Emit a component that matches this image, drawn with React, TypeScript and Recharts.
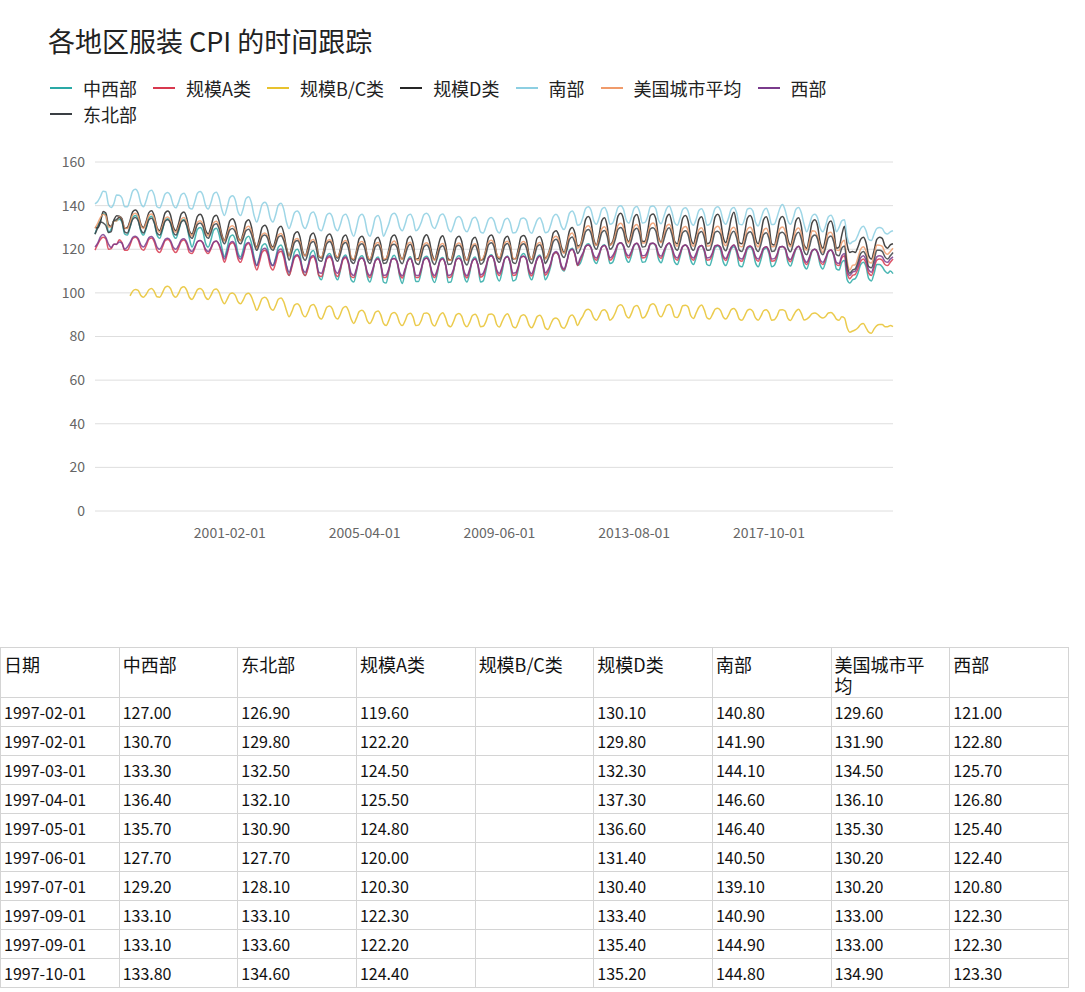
import { CartesianGrid, Line, LineChart, XAxis, YAxis } from 'recharts'

const FONT = '"Noto Sans CJK SC", "Noto Sans", sans-serif'

// first rows exactly as the source table prints them; later months follow on
const HEAD_DATES = [
  '1997-02-01', '1997-02-01', '1997-03-01', '1997-04-01', '1997-05-01',
  '1997-06-01', '1997-07-01', '1997-09-01', '1997-09-01', '1997-10-01',
]
const TICK_INDEX = [50, 100, 150, 200, 250]
const Y_TICKS = [0, 20, 40, 60, 80, 100, 120, 140, 160]

// monthly values, one row per year (1997 .. 2021-09)
const midwest = [
  127.0, 130.7, 133.3, 136.4, 135.7, 127.7, 129.2, 133.1, 133.1, 133.8, 132.5, 127.0,
  126.5, 130.1, 134.6, 135.5, 133.7, 128.3, 126.5, 129.7, 134.2, 135.1, 132.4, 126.5,
  125.0, 128.6, 133.1, 134.0, 132.2, 126.8, 125.0, 128.2, 132.7, 133.6, 130.9, 125.0,
  121.0, 124.6, 129.1, 130.0, 128.2, 122.8, 121.0, 124.2, 128.7, 129.6, 126.9, 121.0,
  116.5, 120.5, 125.5, 126.5, 124.5, 118.5, 116.5, 120.0, 125.0, 126.0, 123.0, 116.5,
  112.5, 116.5, 121.5, 122.5, 120.5, 114.5, 112.5, 116.0, 121.0, 122.0, 119.0, 112.5,
  108.0, 112.8, 118.8, 120.0, 117.6, 110.4, 108.0, 112.2, 118.2, 119.4, 115.8, 108.0,
  106.0, 110.8, 116.8, 118.0, 115.6, 108.4, 106.0, 110.2, 116.2, 117.4, 113.8, 106.0,
  105.0, 109.8, 115.8, 117.0, 114.6, 107.4, 105.0, 109.2, 115.2, 116.4, 112.8, 105.0,
  104.5, 110.0, 115.5, 117.3, 114.4, 107.6, 104.3, 109.5, 115.0, 116.6, 112.5, 105.2,
  105.2, 109.6, 116.0, 116.8, 114.8, 107.2, 104.8, 109.0, 115.4, 116.2, 113.0, 104.8,
  105.0, 109.8, 115.8, 117.0, 114.6, 107.4, 105.0, 109.2, 115.2, 116.4, 112.8, 105.0,
  105.5, 110.3, 116.3, 117.5, 115.1, 107.9, 105.5, 109.7, 115.7, 116.9, 113.3, 105.5,
  106.0, 110.8, 116.8, 118.0, 115.6, 108.4, 106.0, 110.2, 116.2, 117.4, 113.8, 106.0,
  108.0, 112.0, 117.5, 118.5, 117.0, 111.5, 110.0, 114.0, 119.5, 120.5, 118.0, 112.5,
  113.5, 117.1, 121.6, 122.5, 120.7, 115.3, 113.5, 116.7, 121.2, 122.1, 119.4, 113.5,
  114.0, 117.6, 122.1, 123.0, 121.2, 115.8, 114.0, 117.2, 121.7, 122.6, 119.9, 114.0,
  114.2, 117.5, 122.3, 122.8, 121.4, 115.6, 113.8, 117.4, 121.5, 122.8, 119.7, 114.1,
  113.0, 116.6, 121.1, 122.0, 120.2, 114.8, 113.0, 116.2, 120.7, 121.6, 118.9, 113.0,
  112.5, 116.1, 120.6, 121.5, 119.7, 114.3, 112.5, 115.7, 120.2, 121.1, 118.4, 112.5,
  112.0, 115.6, 120.1, 121.0, 119.2, 113.8, 112.0, 115.2, 119.7, 120.6, 117.9, 112.0,
  112.7, 116.0, 120.8, 121.3, 119.9, 114.1, 112.3, 115.9, 120.0, 121.3, 118.2, 112.6,
  111.0, 114.6, 119.1, 120.0, 118.2, 112.8, 111.0, 114.2, 118.7, 119.6, 116.9, 111.0,
  110.5, 114.0, 115.0, 106.0, 104.5, 106.0, 106.5, 109.0, 113.0, 114.0, 112.0, 106.5,
  105.5, 109.0, 113.0, 113.0, 112.0, 110.0, 109.0, 110.0, 108.8,
]

const northeast = [
  126.9, 129.8, 132.5, 132.1, 130.9, 127.7, 128.1, 133.1, 133.6, 134.6, 133.0, 128.0,
  127.5, 130.3, 133.8, 134.5, 133.1, 128.9, 127.5, 130.0, 133.5, 134.2, 132.0, 127.5,
  126.5, 129.3, 132.8, 133.5, 132.1, 127.9, 126.5, 129.0, 132.5, 133.2, 131.0, 126.5,
  125.0, 127.8, 131.3, 132.0, 130.6, 126.4, 125.0, 127.5, 131.0, 131.7, 129.5, 125.0,
  122.5, 125.3, 128.8, 129.5, 128.1, 123.9, 122.5, 125.0, 128.5, 129.2, 127.0, 122.5,
  119.5, 122.3, 125.8, 126.5, 125.1, 120.9, 119.5, 122.0, 125.5, 126.2, 124.0, 119.5,
  115.0, 118.6, 123.1, 124.0, 122.2, 116.8, 115.0, 118.2, 122.7, 123.6, 120.9, 115.0,
  114.5, 118.1, 122.6, 123.5, 121.7, 116.3, 114.5, 117.7, 122.2, 123.1, 120.4, 114.5,
  113.5, 117.1, 121.6, 122.5, 120.7, 115.3, 113.5, 116.7, 121.2, 122.1, 119.4, 113.5,
  113.7, 117.0, 121.8, 122.3, 120.9, 115.1, 113.4, 116.9, 121.0, 122.3, 119.2, 113.8,
  113.0, 116.6, 121.1, 122.0, 120.2, 114.8, 113.0, 116.2, 120.7, 121.6, 118.9, 113.0,
  113.2, 116.5, 121.3, 121.8, 120.4, 114.6, 112.8, 116.4, 120.5, 121.8, 118.7, 113.1,
  114.0, 117.6, 122.1, 123.0, 121.2, 115.8, 114.0, 117.2, 121.7, 122.6, 119.9, 114.0,
  113.5, 117.1, 121.6, 122.5, 120.7, 115.3, 113.5, 116.7, 121.2, 122.1, 119.4, 113.5,
  115.5, 118.8, 123.5, 124.6, 122.8, 117.8, 116.2, 119.5, 124.5, 125.6, 123.0, 118.0,
  120.0, 123.6, 128.1, 129.0, 127.2, 121.8, 120.0, 123.2, 127.7, 128.6, 125.9, 120.0,
  121.0, 124.6, 129.1, 130.0, 128.2, 122.8, 121.0, 124.2, 128.7, 129.6, 126.9, 121.0,
  121.2, 124.5, 129.3, 129.8, 128.4, 122.6, 120.8, 124.4, 128.5, 129.8, 126.7, 121.1,
  119.5, 123.1, 127.6, 128.5, 126.7, 121.3, 119.5, 122.7, 127.2, 128.1, 125.4, 119.5,
  119.6, 123.0, 127.8, 128.3, 126.9, 121.1, 119.3, 122.9, 127.0, 128.3, 125.2, 119.6,
  119.0, 122.6, 127.1, 128.0, 126.2, 120.8, 119.0, 122.2, 126.7, 127.6, 124.9, 119.0,
  119.2, 122.5, 127.3, 127.8, 126.4, 120.6, 118.8, 122.4, 126.5, 127.8, 124.7, 119.1,
  117.5, 121.1, 125.6, 126.5, 124.7, 119.3, 117.5, 120.7, 125.2, 126.1, 123.4, 117.5,
  117.0, 120.5, 121.5, 112.5, 109.0, 110.5, 111.0, 114.0, 118.0, 119.0, 117.0, 112.0,
  111.5, 115.0, 119.5, 119.5, 119.0, 116.5, 115.5, 117.0, 118.5,
]

const sizeA = [
  119.6, 122.2, 124.5, 125.5, 124.8, 120.0, 120.3, 122.3, 122.2, 124.4, 123.0, 119.5,
  119.5, 121.9, 124.9, 125.5, 124.3, 120.7, 119.5, 121.6, 124.6, 125.2, 123.4, 119.5,
  118.5, 120.9, 123.9, 124.5, 123.3, 119.7, 118.5, 120.6, 123.6, 124.2, 122.4, 118.5,
  118.0, 120.4, 123.4, 124.0, 122.8, 119.2, 118.0, 120.1, 123.1, 123.7, 121.9, 118.0,
  114.0, 117.6, 122.1, 123.0, 121.2, 115.8, 114.0, 117.2, 121.7, 122.6, 119.9, 114.0,
  110.5, 114.1, 118.6, 119.5, 117.7, 112.3, 110.5, 113.7, 118.2, 119.1, 116.4, 110.5,
  108.0, 111.6, 116.1, 117.0, 115.2, 109.8, 108.0, 111.2, 115.7, 116.6, 113.9, 108.0,
  107.5, 111.1, 115.6, 116.5, 114.7, 109.3, 107.5, 110.7, 115.2, 116.1, 113.4, 107.5,
  107.0, 110.6, 115.1, 116.0, 114.2, 108.8, 107.0, 110.2, 114.7, 115.6, 112.9, 107.0,
  107.2, 110.5, 115.3, 115.8, 114.4, 108.6, 106.8, 110.4, 114.5, 115.8, 112.7, 107.1,
  107.0, 110.6, 115.1, 116.0, 114.2, 108.8, 107.0, 110.2, 114.7, 115.6, 112.9, 107.0,
  107.3, 110.4, 115.2, 115.9, 114.3, 108.7, 106.9, 110.3, 114.6, 115.7, 112.8, 107.2,
  108.0, 111.6, 116.1, 117.0, 115.2, 109.8, 108.0, 111.2, 115.7, 116.6, 113.9, 108.0,
  108.2, 111.5, 116.3, 116.8, 115.4, 109.6, 107.8, 111.4, 115.5, 116.8, 113.7, 108.1,
  109.5, 113.0, 117.5, 118.5, 117.0, 112.0, 110.5, 114.0, 119.0, 120.0, 117.5, 112.5,
  115.0, 117.8, 121.3, 122.0, 120.6, 116.4, 115.0, 117.5, 121.0, 121.7, 119.5, 115.0,
  116.0, 118.8, 122.3, 123.0, 121.6, 117.4, 116.0, 118.5, 122.0, 122.7, 120.5, 116.0,
  116.2, 118.7, 122.5, 122.8, 121.8, 117.2, 115.8, 118.7, 121.8, 122.9, 120.3, 116.1,
  115.0, 117.8, 121.3, 122.0, 120.6, 116.4, 115.0, 117.5, 121.0, 121.7, 119.5, 115.0,
  115.2, 117.7, 121.5, 121.8, 120.8, 116.2, 114.8, 117.7, 120.8, 121.9, 119.3, 115.1,
  114.5, 117.3, 120.8, 121.5, 120.1, 115.9, 114.5, 117.0, 120.5, 121.2, 119.0, 114.5,
  114.7, 117.2, 121.0, 121.3, 120.3, 115.7, 114.3, 117.2, 120.3, 121.4, 118.8, 114.6,
  113.0, 115.8, 119.3, 120.0, 118.6, 114.4, 113.0, 115.5, 119.0, 119.7, 117.5, 113.0,
  112.5, 116.0, 117.0, 109.0, 106.5, 108.0, 108.5, 111.0, 114.5, 115.5, 113.5, 109.0,
  108.0, 111.5, 115.0, 115.5, 115.0, 113.0, 112.5, 114.0, 115.5,
]

// the B/C series only starts in early 1998
const sizeBC = [
  null, null, null, null, null, null, null, null, null, null, null, null,
  null, 98.6, 100.8, 101.6, 101.2, 98.8, 98.0, 99.4, 101.4, 102.0, 100.6, 98.2,
  98.0, 100.0, 102.5, 103.0, 102.0, 99.0, 98.0, 99.8, 102.3, 102.8, 101.3, 98.0,
  97.0, 99.0, 101.5, 102.0, 101.0, 98.0, 97.0, 98.8, 101.3, 101.8, 100.3, 97.0,
  95.0, 97.0, 99.5, 100.0, 99.0, 96.0, 95.0, 96.8, 99.3, 99.8, 98.3, 95.0,
  92.0, 94.4, 97.4, 98.0, 96.8, 93.2, 92.0, 94.1, 97.1, 97.7, 95.9, 92.0,
  89.0, 91.4, 94.4, 95.0, 93.8, 90.2, 89.0, 91.1, 94.1, 94.7, 92.9, 89.0,
  88.0, 90.4, 93.4, 94.0, 92.8, 89.2, 88.0, 90.1, 93.1, 93.7, 91.9, 88.0,
  86.0, 88.4, 91.4, 92.0, 90.8, 87.2, 86.0, 88.1, 91.1, 91.7, 89.9, 86.0,
  85.0, 87.4, 90.4, 91.0, 89.8, 86.2, 85.0, 87.1, 90.1, 90.7, 88.9, 85.0,
  85.2, 87.3, 90.6, 90.8, 90.0, 86.0, 84.8, 87.3, 89.9, 90.9, 88.7, 85.1,
  84.5, 86.9, 89.9, 90.5, 89.3, 85.7, 84.5, 86.6, 89.6, 90.2, 88.4, 84.5,
  84.7, 86.8, 90.1, 90.3, 89.5, 85.5, 84.3, 86.8, 89.4, 90.4, 88.2, 84.6,
  84.0, 86.4, 89.4, 90.0, 88.8, 85.2, 84.0, 86.1, 89.1, 89.7, 87.9, 84.0,
  83.2, 85.5, 88.0, 88.5, 87.5, 84.5, 83.8, 85.8, 89.0, 89.8, 88.2, 85.0,
  87.5, 89.5, 92.0, 92.5, 91.5, 88.5, 87.5, 89.3, 91.8, 92.3, 90.8, 87.5,
  88.5, 90.9, 93.9, 94.5, 93.3, 89.7, 88.5, 90.6, 93.6, 94.2, 92.4, 88.5,
  89.0, 91.4, 94.4, 95.0, 93.8, 90.2, 89.0, 91.1, 94.1, 94.7, 92.9, 89.0,
  88.7, 90.8, 94.1, 94.3, 93.5, 89.5, 88.3, 90.8, 93.4, 94.4, 92.2, 88.6,
  88.0, 90.0, 92.5, 93.0, 92.0, 89.0, 88.0, 89.8, 92.3, 92.8, 91.3, 88.0,
  87.5, 89.5, 92.0, 92.5, 91.5, 88.5, 87.5, 89.3, 91.8, 92.3, 90.8, 87.5,
  87.7, 89.4, 92.2, 92.3, 91.7, 88.3, 87.3, 89.5, 91.6, 92.5, 90.6, 87.6,
  88.0, 89.0, 90.5, 90.8, 90.2, 89.0, 88.5, 89.2, 90.8, 91.0, 90.0, 88.0,
  87.5, 89.0, 88.5, 84.0, 82.0, 82.5, 83.0, 84.0, 85.5, 86.0, 84.0, 82.0,
  81.5, 83.5, 85.0, 85.5, 85.5, 84.5, 84.5, 85.0, 84.5,
]

const sizeD = [
  130.1, 129.8, 132.3, 137.3, 136.6, 131.4, 130.4, 133.4, 135.4, 135.2, 134.0, 129.5,
  130.0, 133.2, 137.2, 138.0, 136.4, 131.6, 130.0, 132.8, 136.8, 137.6, 135.2, 130.0,
  128.5, 132.1, 136.6, 137.5, 135.7, 130.3, 128.5, 131.7, 136.2, 137.1, 134.4, 128.5,
  127.0, 130.6, 135.1, 136.0, 134.2, 128.8, 127.0, 130.2, 134.7, 135.6, 132.9, 127.0,
  124.0, 128.0, 133.0, 134.0, 132.0, 126.0, 124.0, 127.5, 132.5, 133.5, 130.5, 124.0,
  121.0, 125.0, 130.0, 131.0, 129.0, 123.0, 121.0, 124.5, 129.5, 130.5, 127.5, 121.0,
  117.0, 121.4, 126.9, 128.0, 125.8, 119.2, 117.0, 120.9, 126.4, 127.5, 124.2, 117.0,
  116.0, 120.4, 125.9, 127.0, 124.8, 118.2, 116.0, 119.9, 125.4, 126.5, 123.2, 116.0,
  115.0, 119.4, 124.9, 126.0, 123.8, 117.2, 115.0, 118.9, 124.4, 125.5, 122.2, 115.0,
  115.5, 119.9, 125.4, 126.5, 124.3, 117.7, 115.5, 119.4, 124.9, 126.0, 122.7, 115.5,
  115.8, 120.1, 125.2, 126.7, 124.0, 117.9, 115.2, 119.6, 124.7, 126.2, 122.5, 115.6,
  115.0, 119.4, 124.9, 126.0, 123.8, 117.2, 115.0, 118.9, 124.4, 125.5, 122.2, 115.0,
  115.5, 119.9, 125.4, 126.5, 124.3, 117.7, 115.5, 119.4, 124.9, 126.0, 122.7, 115.5,
  115.7, 120.0, 125.6, 126.3, 124.5, 117.5, 115.3, 119.6, 125.1, 125.8, 122.9, 115.8,
  117.5, 121.5, 127.5, 128.5, 126.5, 121.0, 118.5, 122.5, 128.5, 130.0, 127.5, 121.5,
  122.0, 127.2, 133.7, 135.0, 132.4, 124.6, 122.0, 126.6, 133.1, 134.4, 130.5, 122.0,
  123.5, 128.7, 135.2, 136.5, 133.9, 126.1, 123.5, 128.1, 134.6, 135.9, 132.0, 123.5,
  123.7, 128.5, 135.4, 136.2, 134.1, 125.9, 123.3, 128.3, 134.4, 136.1, 131.8, 123.6,
  122.5, 127.7, 134.2, 135.5, 132.9, 125.1, 122.5, 127.1, 133.6, 134.9, 131.0, 122.5,
  123.0, 128.2, 134.7, 136.0, 133.4, 125.6, 123.0, 127.6, 134.1, 137.0, 131.5, 123.0,
  122.5, 127.7, 134.2, 135.5, 132.9, 125.1, 122.5, 127.1, 133.6, 134.9, 131.0, 122.5,
  122.0, 127.2, 133.7, 135.0, 132.4, 124.6, 122.0, 126.6, 133.1, 134.4, 130.5, 122.0,
  120.5, 125.7, 132.2, 133.5, 130.9, 123.1, 120.5, 125.1, 131.6, 132.9, 129.0, 120.5,
  121.0, 126.5, 130.5, 122.0, 118.5, 119.0, 118.5, 121.0, 124.5, 125.5, 123.0, 117.0,
  115.5, 119.5, 124.5, 125.5, 125.0, 121.5, 120.5, 122.0, 122.5,
]

const south = [
  140.8, 141.9, 144.1, 146.6, 146.4, 140.5, 139.1, 140.9, 144.9, 144.8, 143.5, 139.5,
  139.5, 142.7, 146.7, 147.5, 145.9, 141.1, 139.5, 142.3, 146.3, 147.1, 144.7, 139.5,
  139.0, 141.8, 145.3, 146.0, 144.6, 140.4, 139.0, 141.5, 145.0, 145.7, 143.5, 139.0,
  138.5, 141.7, 145.7, 146.5, 144.9, 140.1, 138.5, 141.3, 145.3, 146.1, 143.7, 138.5,
  135.5, 139.1, 143.6, 144.5, 142.7, 137.3, 135.5, 138.7, 143.2, 144.1, 141.4, 135.5,
  132.5, 136.1, 140.6, 141.5, 139.7, 134.3, 132.5, 135.7, 140.2, 141.1, 138.4, 132.5,
  129.5, 132.7, 136.7, 137.5, 135.9, 131.1, 129.5, 132.3, 136.3, 137.1, 134.7, 129.5,
  128.5, 131.7, 135.7, 136.5, 134.9, 130.1, 128.5, 131.3, 135.3, 136.1, 133.7, 128.5,
  126.0, 130.0, 135.0, 136.0, 134.0, 128.0, 126.0, 129.5, 134.5, 135.5, 132.5, 126.0,
  128.5, 131.7, 135.7, 136.5, 134.9, 130.1, 128.5, 131.3, 135.3, 136.1, 133.7, 128.5,
  129.5, 132.3, 135.8, 136.5, 135.1, 130.9, 129.5, 132.0, 135.5, 136.2, 134.1, 129.5,
  128.0, 130.8, 134.3, 135.0, 133.6, 129.4, 128.0, 130.5, 134.0, 134.7, 132.6, 128.0,
  127.5, 130.3, 133.8, 134.5, 133.1, 128.9, 127.5, 130.0, 133.5, 134.2, 132.1, 127.5,
  127.7, 130.2, 134.0, 134.3, 133.3, 128.7, 127.3, 130.2, 133.3, 134.4, 131.9, 127.6,
  128.0, 131.0, 135.0, 136.0, 134.5, 130.5, 129.0, 132.0, 136.5, 137.5, 135.5, 131.0,
  131.5, 134.7, 138.7, 139.5, 137.9, 133.1, 131.5, 134.3, 138.3, 139.1, 136.7, 131.5,
  132.0, 135.2, 139.2, 140.0, 138.4, 133.6, 132.0, 134.8, 138.8, 139.6, 137.2, 132.0,
  132.3, 135.0, 139.5, 139.8, 138.6, 133.4, 131.7, 135.0, 138.6, 139.8, 137.0, 132.2,
  131.0, 134.2, 138.2, 139.0, 137.4, 132.6, 131.0, 133.8, 137.8, 138.6, 136.2, 131.0,
  131.5, 134.7, 138.7, 139.5, 137.9, 133.1, 131.5, 134.3, 138.3, 139.1, 136.7, 131.5,
  131.2, 134.0, 138.4, 138.8, 137.6, 132.4, 130.7, 134.0, 137.6, 138.8, 136.0, 131.3,
  131.5, 134.7, 138.7, 140.5, 137.9, 133.1, 131.5, 134.3, 138.3, 139.1, 136.7, 131.5,
  128.0, 131.2, 135.2, 136.0, 134.4, 129.6, 128.0, 130.8, 134.8, 135.6, 133.2, 128.0,
  130.0, 133.0, 133.5, 125.5, 122.5, 123.5, 124.0, 126.5, 129.5, 130.5, 128.5, 124.5,
  124.0, 127.0, 129.5, 130.0, 129.5, 127.5, 127.0, 128.0, 128.5,
]

const usAverage = [
  129.6, 131.9, 134.5, 136.1, 135.3, 130.2, 130.2, 133.0, 133.0, 134.9, 133.5, 129.8,
  129.5, 132.3, 135.8, 136.5, 135.1, 130.9, 129.5, 132.0, 135.5, 136.2, 134.1, 129.5,
  127.8, 130.6, 134.1, 134.8, 133.4, 129.2, 127.8, 130.3, 133.8, 134.5, 132.4, 127.8,
  126.1, 128.9, 132.4, 133.1, 131.7, 127.5, 126.1, 128.6, 132.1, 132.8, 130.7, 126.1,
  123.8, 126.6, 130.1, 130.8, 129.4, 125.2, 123.8, 126.3, 129.8, 130.5, 128.4, 123.8,
  120.5, 123.3, 126.8, 127.5, 126.1, 121.9, 120.5, 123.0, 126.5, 127.2, 125.1, 120.5,
  116.9, 120.1, 124.1, 124.9, 123.3, 118.5, 116.9, 119.7, 123.7, 124.5, 122.1, 116.9,
  116.4, 119.6, 123.6, 124.4, 122.8, 118.0, 116.4, 119.2, 123.2, 124.0, 121.6, 116.4,
  115.5, 118.7, 122.7, 123.5, 121.9, 117.1, 115.5, 118.3, 122.3, 123.1, 120.7, 115.5,
  115.8, 118.9, 122.6, 123.8, 121.7, 117.0, 115.3, 118.5, 122.5, 123.2, 120.5, 115.6,
  115.0, 118.2, 122.2, 123.0, 121.4, 116.6, 115.0, 117.8, 121.8, 122.6, 120.2, 115.0,
  114.9, 118.1, 122.1, 122.9, 121.3, 116.5, 114.9, 117.7, 121.7, 122.5, 120.1, 114.9,
  116.1, 119.3, 123.3, 124.1, 122.5, 117.7, 116.1, 118.9, 122.9, 123.7, 121.3, 116.1,
  115.5, 118.7, 122.7, 123.5, 121.9, 117.1, 115.5, 118.3, 122.3, 123.1, 120.7, 115.5,
  117.4, 120.6, 125.1, 126.0, 124.5, 119.8, 118.2, 121.4, 126.3, 127.4, 125.1, 120.5,
  121.8, 125.4, 129.9, 130.8, 129.0, 123.6, 121.8, 124.9, 129.4, 130.3, 127.6, 121.8,
  122.9, 126.5, 131.0, 131.9, 130.1, 124.7, 122.9, 126.0, 130.5, 131.4, 128.7, 122.9,
  123.0, 126.6, 131.1, 132.0, 130.2, 124.8, 123.0, 126.1, 130.6, 131.5, 128.8, 123.0,
  121.4, 125.0, 129.5, 130.4, 128.6, 123.2, 121.4, 124.5, 129.0, 129.9, 127.2, 121.4,
  121.6, 125.2, 129.7, 130.6, 128.8, 123.4, 121.6, 124.7, 129.2, 130.1, 127.4, 121.6,
  121.1, 124.7, 129.2, 130.1, 128.3, 122.9, 121.1, 124.2, 128.7, 129.6, 126.9, 121.1,
  121.2, 124.8, 129.3, 130.2, 128.4, 123.0, 121.2, 124.3, 128.8, 129.7, 127.0, 121.2,
  119.6, 123.6, 128.5, 128.3, 125.9, 121.6, 118.5, 122.5, 127.4, 127.8, 125.0, 119.6,
  119.4, 123.0, 124.1, 114.4, 110.5, 112.6, 112.9, 116.1, 120.0, 121.2, 119.1, 114.3,
  113.7, 117.6, 121.9, 121.8, 121.3, 118.6, 117.7, 119.0, 120.5,
]

const west = [
  121.0, 122.8, 125.7, 126.8, 125.4, 122.4, 120.8, 122.3, 122.3, 123.3, 122.8, 120.0,
  121.0, 123.0, 125.5, 126.0, 125.0, 122.0, 121.0, 122.8, 125.3, 125.8, 124.3, 121.0,
  120.0, 122.0, 124.5, 125.0, 124.0, 121.0, 120.0, 121.8, 124.3, 124.8, 123.3, 120.0,
  119.0, 121.0, 123.5, 124.0, 123.0, 120.0, 119.0, 120.8, 123.3, 123.8, 122.3, 119.0,
  115.5, 118.7, 122.7, 123.5, 121.9, 117.1, 115.5, 118.3, 122.3, 123.1, 120.7, 115.5,
  112.5, 115.7, 119.7, 120.5, 118.9, 114.1, 112.5, 115.3, 119.3, 120.1, 117.7, 112.5,
  109.5, 112.7, 116.7, 117.5, 115.9, 111.1, 109.5, 112.3, 116.3, 117.1, 114.7, 109.5,
  109.0, 112.2, 116.2, 117.0, 115.4, 110.6, 109.0, 111.8, 115.8, 116.6, 114.2, 109.0,
  108.0, 111.2, 115.2, 116.0, 114.4, 109.6, 108.0, 110.8, 114.8, 115.6, 113.2, 108.0,
  108.2, 111.1, 115.4, 115.8, 114.6, 109.4, 107.8, 111.0, 114.6, 115.8, 113.0, 108.1,
  108.0, 111.2, 115.2, 116.0, 114.4, 109.6, 108.0, 110.8, 114.8, 115.6, 113.2, 108.0,
  108.3, 111.0, 115.3, 115.9, 114.5, 109.5, 107.9, 110.9, 114.7, 115.7, 113.1, 108.2,
  109.0, 112.2, 116.2, 117.0, 115.4, 110.6, 109.0, 111.8, 115.8, 116.6, 114.2, 109.0,
  109.2, 112.1, 116.4, 116.8, 115.6, 110.4, 108.8, 112.0, 115.6, 116.8, 114.0, 109.1,
  110.5, 113.5, 118.0, 119.0, 117.5, 112.5, 111.0, 114.5, 119.0, 120.0, 118.0, 113.0,
  116.0, 118.4, 121.4, 122.0, 120.8, 117.2, 116.0, 118.1, 121.1, 121.7, 119.9, 116.0,
  117.0, 119.4, 122.4, 123.0, 121.8, 118.2, 117.0, 119.1, 122.1, 122.7, 120.9, 117.0,
  117.2, 119.3, 122.6, 122.8, 122.0, 118.0, 116.8, 119.3, 121.9, 122.9, 120.7, 117.1,
  116.0, 118.4, 121.4, 122.0, 120.8, 117.2, 116.0, 118.1, 121.1, 121.7, 119.9, 116.0,
  116.2, 118.3, 121.6, 121.8, 121.0, 117.0, 115.8, 118.3, 120.9, 121.9, 119.7, 116.1,
  115.5, 117.9, 120.9, 121.5, 120.3, 116.7, 115.5, 117.6, 120.6, 121.2, 119.4, 115.5,
  115.7, 117.8, 121.1, 121.3, 120.5, 116.5, 115.3, 117.8, 120.4, 121.4, 119.2, 115.6,
  114.0, 116.4, 119.4, 120.0, 118.8, 115.2, 114.0, 116.1, 119.1, 119.7, 117.9, 114.0,
  113.5, 117.0, 118.0, 110.5, 108.0, 109.5, 110.0, 112.5, 116.0, 117.0, 115.0, 110.5,
  109.5, 113.0, 116.5, 117.0, 116.5, 114.5, 114.0, 115.5, 116.5,
]

// legend order
const SERIES = [
  { key: 'midwest', name: '中西部', color: '#2aa9a6', values: midwest },
  { key: 'sizeA', name: '规模A类', color: '#d8394f', values: sizeA },
  { key: 'sizeBC', name: '规模B/C类', color: '#e8c22e', values: sizeBC },
  { key: 'sizeD', name: '规模D类', color: '#262626', values: sizeD },
  { key: 'south', name: '南部', color: '#8dcfe2', values: south },
  { key: 'usAverage', name: '美国城市平均', color: '#f09b6b', values: usAverage },
  { key: 'west', name: '西部', color: '#7a3b8c', values: west },
  { key: 'northeast', name: '东北部', color: '#3a3f44', values: northeast },
]

// table column order
const TABLE_COLUMNS = ['midwest', 'northeast', 'sizeA', 'sizeBC', 'sizeD', 'south', 'usAverage', 'west']

function dateAt(i: number) {
  if (i < HEAD_DATES.length) return HEAD_DATES[i]
  const m = 1996 * 12 + 11 + i
  return `${Math.floor(m / 12)}-${String((m % 12) + 1).padStart(2, '0')}-01`
}

const dates = midwest.map((_, i) => dateAt(i))

const data = dates.map((date, i) => {
  const row: Record<string, number | string | null> = { idx: i, date }
  SERIES.forEach((s) => {
    row[s.key] = s.values[i]
  })
  return row
})

const byKey = Object.fromEntries(SERIES.map((s) => [s.key, s]))

const cellStyle: React.CSSProperties = {
  border: '1px solid #d4d4d4',
  padding: '3px 10px 3px 3px',
  fontSize: 16,
  lineHeight: '22px',
  textAlign: 'left',
  verticalAlign: 'middle',
  color: '#111',
}

const headStyle: React.CSSProperties = {
  ...cellStyle,
  fontWeight: 'normal',
  fontSize: 18,
  lineHeight: '21px',
  padding: '6px 10px 1px 3px',
  verticalAlign: 'top',
  height: 41,
}

export default function App() {
  return (
    <div style={{ position: 'relative', width: 1085, height: 992, overflow: 'hidden', fontFamily: FONT, background: '#fff' }}>
      <style>{'body{margin:0}'}</style>
      <div style={{ position: 'absolute', left: 48, top: 23, fontSize: 27, lineHeight: '36px', color: '#222' }}>
        各地区服装 CPI 的时间跟踪
      </div>

      <LineChart
        width={1085}
        height={560}
        data={data}
        margin={{ top: 162, right: 192, bottom: 19, left: 0 }}
        style={{ position: 'absolute', left: 0, top: 0 }}
      >
        <CartesianGrid vertical={false} stroke="#dedede" />
        <XAxis
          dataKey="idx"
          type="number"
          domain={[0, dates.length - 1]}
          ticks={TICK_INDEX}
          tickFormatter={(i: number) => dates[i]}
          axisLine={false}
          tickLine={false}
          tickMargin={11}
          height={30}
          tick={{ fill: '#666', fontSize: 14, fontFamily: FONT }}
        />
        <YAxis
          domain={[0, 160]}
          ticks={Y_TICKS}
          width={95}
          axisLine={false}
          tickLine={false}
          tickMargin={4}
          tick={{ fill: '#666', fontSize: 14, fontFamily: FONT }}
        />
        {SERIES.map((s) => (
          <Line
            key={s.key}
            dataKey={s.key}
            name={s.name}
            type="monotone"
            stroke={s.color}
            strokeWidth={1.5}
            strokeOpacity={0.85}
            dot={false}
            activeDot={false}
            isAnimationActive={false}
          />
        ))}
      </LineChart>

      <div
        style={{
          position: 'absolute',
          left: 50,
          top: 78,
          width: 850,
          display: 'flex',
          flexWrap: 'wrap',
          columnGap: 16,
          rowGap: 6,
          fontSize: 18,
          lineHeight: '20px',
          color: '#222',
        }}
      >
        {SERIES.map((s) => (
          <div key={s.key} style={{ display: 'flex', alignItems: 'center', height: 20 }}>
            <span style={{ display: 'inline-block', width: 22, height: 2, background: s.color, marginRight: 11 }} />
            <span>{s.name}</span>
          </div>
        ))}
      </div>

      <table
        style={{
          position: 'absolute',
          left: 0,
          top: 647,
          width: 1069,
          tableLayout: 'fixed',
          borderCollapse: 'collapse',
          fontFamily: FONT,
        }}
      >
        <thead>
          <tr>
            <th style={headStyle}>日期</th>
            {TABLE_COLUMNS.map((k) => (
              <th key={k} style={headStyle}>
                {byKey[k].name}
              </th>
            ))}
          </tr>
        </thead>
        <tbody>
          {HEAD_DATES.map((d, i) => (
            <tr key={i}>
              <td style={cellStyle}>{d}</td>
              {TABLE_COLUMNS.map((k) => {
                const v = byKey[k].values[i]
                return (
                  <td key={k} style={cellStyle}>
                    {v == null ? '' : v.toFixed(2)}
                  </td>
                )
              })}
            </tr>
          ))}
        </tbody>
      </table>
    </div>
  )
}
